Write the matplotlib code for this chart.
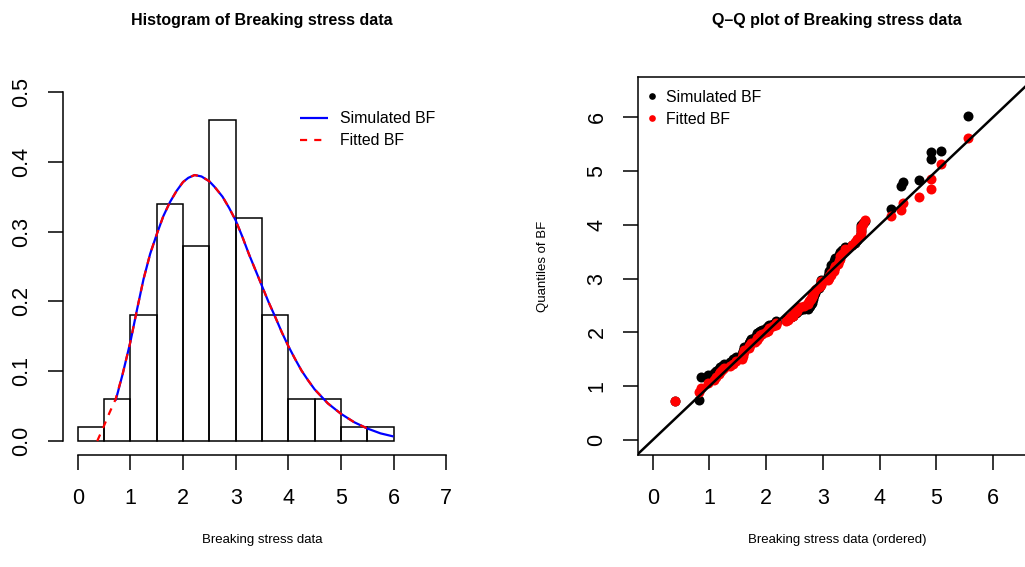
import matplotlib
matplotlib.use("Agg")
import matplotlib.pyplot as plt
from matplotlib.lines import Line2D

plt.rcParams['font.family'] = ['Liberation Sans', 'DejaVu Sans']

# ---------------- data ----------------
bin_edges = [0.0, 0.5, 1.0, 1.5, 2.0, 2.5, 3.0, 3.5, 4.0, 4.5, 5.0, 5.5, 6.0]
densities = [0.02, 0.06, 0.18, 0.34, 0.28, 0.46, 0.32, 0.18, 0.06, 0.06, 0.02, 0.02]

sim_curve_x = [0.72, 0.85, 1.00, 1.125, 1.25, 1.375, 1.50, 1.625, 1.75, 1.875, 2.00, 2.10,
               2.22, 2.35, 2.50, 2.60, 2.75, 2.875, 3.00, 3.125, 3.25, 3.375, 3.50, 3.625,
               3.75, 3.875, 4.00, 4.125, 4.25, 4.375, 4.50, 4.75, 5.00, 5.25, 5.50, 5.75, 6.00]
sim_curve_y = [0.058, 0.095, 0.142, 0.188, 0.232, 0.268, 0.296, 0.322, 0.342, 0.358, 0.371, 0.377,
               0.381, 0.379, 0.372, 0.364, 0.350, 0.334, 0.316, 0.293, 0.268, 0.245, 0.222, 0.199,
               0.178, 0.156, 0.136, 0.118, 0.101, 0.087, 0.074, 0.054, 0.039, 0.027, 0.018, 0.011, 0.0065]

fit_curve_x = [0.37, 0.50, 0.60, 0.72, 0.85, 1.00, 1.125, 1.25, 1.375, 1.50, 1.625, 1.75, 1.875,
               2.00, 2.10, 2.22, 2.35, 2.50, 2.60, 2.75, 2.875, 3.00, 3.125, 3.25, 3.375, 3.50,
               3.625, 3.75, 3.875, 4.00, 4.125, 4.25, 4.375, 4.50, 4.75, 5.00, 5.25, 5.50]
fit_curve_y = [0.000, 0.022, 0.040, 0.060, 0.095, 0.142, 0.188, 0.232, 0.268, 0.296, 0.322, 0.342, 0.358,
               0.371, 0.377, 0.381, 0.379, 0.372, 0.364, 0.350, 0.334, 0.316, 0.293, 0.268, 0.245, 0.222,
               0.199, 0.178, 0.156, 0.136, 0.118, 0.101, 0.087, 0.074, 0.054, 0.039, 0.027, 0.018]

data_sorted = [0.39, 0.81, 0.85, 0.98, 1.08, 1.12, 1.17, 1.18, 1.22, 1.25,
               1.36, 1.41, 1.47, 1.57, 1.57, 1.59, 1.59, 1.61, 1.61, 1.69,
               1.69, 1.71, 1.73, 1.80, 1.84, 1.84, 1.87, 1.89, 1.92, 2.00,
               2.03, 2.03, 2.05, 2.12, 2.17, 2.17, 2.17, 2.35, 2.38, 2.41,
               2.43, 2.48, 2.48, 2.50, 2.53, 2.55, 2.55, 2.56, 2.59, 2.67,
               2.73, 2.74, 2.76, 2.77, 2.79, 2.81, 2.81, 2.82, 2.83, 2.85,
               2.87, 2.88, 2.93, 2.95, 2.96, 2.97, 2.97, 3.09, 3.11, 3.11,
               3.15, 3.15, 3.19, 3.19, 3.22, 3.22, 3.27, 3.28, 3.31, 3.31,
               3.33, 3.39, 3.39, 3.51, 3.56, 3.60, 3.65, 3.68, 3.68, 3.68,
               3.70, 3.75, 4.20, 4.38, 4.42, 4.70, 4.90, 4.91, 5.08, 5.56]

sim_quantiles = [0.72, 0.74, 1.17, 1.20, 1.25, 1.28, 1.32, 1.36, 1.38, 1.41,
                 1.45, 1.50, 1.55, 1.58, 1.60, 1.63, 1.66, 1.70, 1.72, 1.76,
                 1.80, 1.84, 1.88, 1.92, 1.96, 1.99, 2.01, 2.03, 2.05, 2.08,
                 2.10, 2.12, 2.14, 2.16, 2.18, 2.19, 2.21, 2.23, 2.25, 2.27,
                 2.29, 2.31, 2.33, 2.35, 2.36, 2.38, 2.39, 2.41, 2.42, 2.43,
                 2.44, 2.46, 2.48, 2.50, 2.52, 2.55, 2.58, 2.62, 2.66, 2.70,
                 2.74, 2.78, 2.82, 2.86, 2.90, 2.94, 2.98, 3.05, 3.10, 3.15,
                 3.20, 3.25, 3.29, 3.32, 3.35, 3.38, 3.41, 3.44, 3.47, 3.50,
                 3.53, 3.55, 3.58, 3.62, 3.66, 3.72, 3.80, 3.88, 3.95, 4.00,
                 4.04, 4.08, 4.29, 4.72, 4.80, 4.84, 5.23, 5.35, 5.37, 6.02]

fit_quantiles = [0.73, 0.90, 0.96, 1.05, 1.12, 1.17, 1.22, 1.26, 1.30, 1.34,
                 1.38, 1.42, 1.46, 1.50, 1.54, 1.57, 1.61, 1.64, 1.67, 1.71,
                 1.74, 1.77, 1.80, 1.83, 1.86, 1.89, 1.92, 1.95, 1.97, 2.00,
                 2.03, 2.05, 2.08, 2.11, 2.13, 2.16, 2.18, 2.21, 2.23, 2.26,
                 2.28, 2.31, 2.33, 2.36, 2.38, 2.40, 2.43, 2.45, 2.48, 2.50,
                 2.53, 2.55, 2.58, 2.60, 2.63, 2.65, 2.68, 2.70, 2.73, 2.76,
                 2.78, 2.81, 2.84, 2.86, 2.89, 2.92, 2.95, 2.98, 3.01, 3.04,
                 3.07, 3.10, 3.14, 3.17, 3.21, 3.24, 3.28, 3.32, 3.37, 3.42,
                 3.46, 3.51, 3.55, 3.62, 3.68, 3.73, 3.79, 3.84, 3.90, 3.96,
                 4.02, 4.09, 4.17, 4.28, 4.41, 4.52, 4.67, 4.86, 5.13, 5.62]

x_ticks_hist = [0, 1, 2, 3, 4, 5, 6, 7]
y_ticks_hist = [0.0, 0.1, 0.2, 0.3, 0.4, 0.5]
qq_ticks = [0, 1, 2, 3, 4, 5, 6]

# ---------------- figure ----------------
W, H = 1025, 567
fig = plt.figure(figsize=(W / 100, H / 100), dpi=100)


def axes_px(l, t, r, b):
    return fig.add_axes([l / W, 1 - b / H, (r - l) / W, (b - t) / H])


TICK_FS = 15.5
LAB_FS = 9.5
TITLE_FS = 11.5
LEG_FS = 11.4
AX_LW = 1.1

# ---- left: histogram ----
ax1 = axes_px(63, 78, 461, 455)
ax1.bar(bin_edges[:-1], densities, width=0.5, align='edge', fill=False,
        edgecolor='black', linewidth=1.1)
ax1.plot(sim_curve_x, sim_curve_y, color='blue', lw=1.6, solid_capstyle='butt',
         solid_joinstyle='round', label='Simulated BF')
ax1.plot(fit_curve_x, fit_curve_y, color='red', lw=1.6, dashes=(3.2, 3.2),
         label='Fitted BF')
ax1.set_xlim(-0.28, 7.28)
ax1.set_ylim(-0.02, 0.52)
for s in ['top', 'right']:
    ax1.spines[s].set_visible(False)
ax1.spines['bottom'].set_bounds(0, 7)
ax1.spines['left'].set_bounds(0, 0.5)
for s in ['bottom', 'left']:
    ax1.spines[s].set_linewidth(AX_LW)
ax1.set_xticks(x_ticks_hist)
ax1.set_xticklabels([str(v) for v in x_ticks_hist])
ax1.set_yticks(y_ticks_hist)
ax1.set_yticklabels(['%.1f' % v for v in y_ticks_hist])
ax1.tick_params(axis='x', length=11, width=AX_LW, labelsize=TICK_FS, pad=13)
ax1.tick_params(axis='y', length=11, width=AX_LW, labelsize=TICK_FS, pad=11,
                labelrotation=90)
for lab in ax1.get_yticklabels():
    lab.set_verticalalignment('center')
ax1.legend(loc='upper left', bbox_to_anchor=(0.595, 0.912), frameon=False,
           fontsize=LEG_FS, handlelength=1.75, handletextpad=0.8,
           labelspacing=0.45, borderpad=0, borderaxespad=0)

# ---- right: Q-Q plot ----
ax2 = axes_px(638, 77, 1036, 455)
ax2.plot(data_sorted, sim_quantiles, 'o', color='black', ms=7.2, mew=0,
         label='Simulated BF')
ax2.plot(data_sorted, fit_quantiles, 'o', color='red', ms=7.2, mew=0,
         label='Fitted BF')
ax2.axline((0, 0), slope=1, color='black', lw=1.8)
ax2.set_xlim(-0.26, 6.76)
ax2.set_ylim(-0.28, 6.75)
for s in ax2.spines.values():
    s.set_linewidth(AX_LW)
ax2.set_xticks(qq_ticks)
ax2.set_yticks(qq_ticks)
ax2.set_xticklabels([str(v) for v in qq_ticks])
ax2.set_yticklabels([str(v) for v in qq_ticks])
ax2.tick_params(axis='x', length=11, width=AX_LW, labelsize=TICK_FS, pad=13)
ax2.tick_params(axis='y', length=11, width=AX_LW, labelsize=TICK_FS, pad=11,
                labelrotation=90)
for lab in ax2.get_yticklabels():
    lab.set_verticalalignment('center')
leg_handles = [Line2D([], [], ls='none', marker='o', color='black', ms=4.8, mew=0),
               Line2D([], [], ls='none', marker='o', color='red', ms=4.8, mew=0)]
ax2.legend(leg_handles, ['Simulated BF', 'Fitted BF'], loc='upper left',
           bbox_to_anchor=(0.019, 0.966), frameon=False, fontsize=LEG_FS,
           handlelength=0.8, handletextpad=0.47, labelspacing=0.45,
           borderpad=0, borderaxespad=0)

# ---- titles and labels ----
fig.text(262 / W, 1 - 20 / H, 'Histogram of Breaking stress data', ha='center',
         va='center', fontsize=TITLE_FS, fontweight='bold')
fig.text(837 / W, 1 - 20 / H, 'Q\u2013Q plot of Breaking stress data', ha='center',
         va='center', fontsize=TITLE_FS, fontweight='bold')
fig.text(262 / W, 1 - 540 / H, 'Breaking stress data', ha='center', va='center',
         fontsize=LAB_FS)
fig.text(837 / W, 1 - 540 / H, 'Breaking stress data (ordered)', ha='center',
         va='center', fontsize=LAB_FS)
fig.text(543 / W, 1 - 266 / H, 'Quantiles of BF', ha='center', va='center',
         rotation=90, fontsize=LAB_FS)

fig.savefig('out.png', dpi=100)
